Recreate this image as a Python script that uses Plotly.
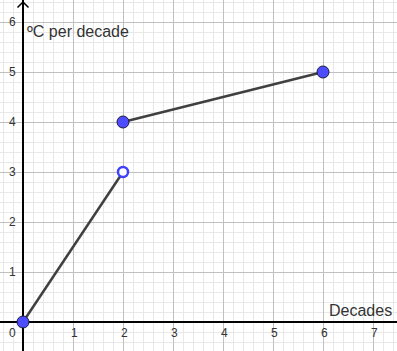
import plotly.graph_objects as go

# Data
seg1_x = [0, 2]
seg1_y = [0, 3]
seg2_x = [2, 6]
seg2_y = [4, 5]
filled_x = [0, 2, 6]
filled_y = [0, 4, 5]
open_x = [2]
open_y = [3]
x_ticks = [1, 2, 3, 4, 5, 6, 7]
y_ticks = [1, 2, 3, 4, 5, 6]
x_title = "Decades"
y_title = "ºC per decade"

fig = go.Figure()

line_style = dict(color="#404040", width=2.5)
fig.add_trace(go.Scatter(x=seg1_x, y=seg1_y, mode="lines", line=line_style, hoverinfo="skip"))
fig.add_trace(go.Scatter(x=seg2_x, y=seg2_y, mode="lines", line=line_style, hoverinfo="skip"))
fig.add_trace(go.Scatter(x=open_x, y=open_y, mode="markers",
                         marker=dict(size=10, color="white", line=dict(color="#4040ff", width=2.5))))
fig.add_trace(go.Scatter(x=filled_x, y=filled_y, mode="markers",
                         marker=dict(size=12, color="#4d4dff", line=dict(color="#1a1a40", width=1))))

# y-axis arrowhead
fig.add_trace(go.Scatter(x=[-0.11, 0, 0.11], y=[6.29, 6.4, 6.29], mode="lines",
                         line=dict(color="black", width=1.5), hoverinfo="skip"))

font = dict(family="Liberation Sans, Arial, sans-serif", size=12, color="#333333")
ann = []
for t in x_ticks:
    ann.append(dict(x=t + 0.02, y=-0.22, text=str(t), showarrow=False, font=font,
                    xanchor="center", yanchor="middle"))
for t in y_ticks:
    ann.append(dict(x=-0.22, y=t, text=str(t), showarrow=False, font=font,
                    xanchor="center", yanchor="middle"))
ann.append(dict(x=-0.22, y=-0.22, text="0", showarrow=False, font=font,
                xanchor="center", yanchor="middle"))
big = dict(family="Liberation Sans, Arial, sans-serif", size=16, color="#333333")
ann.append(dict(x=0.04, y=5.82, text=y_title, showarrow=False, font=big,
                xanchor="left", yanchor="middle"))
ann.append(dict(x=6.74, y=0.24, text=x_title, showarrow=False, font=big,
                xanchor="center", yanchor="middle"))

axis_common = dict(
    showticklabels=False, ticks="", tick0=0, dtick=1,
    showgrid=True, gridcolor="#c0c0c0", gridwidth=1,
    minor=dict(dtick=0.2, showgrid=True, gridcolor="#e8e8e8", gridwidth=1),
    zeroline=True, zerolinecolor="black", zerolinewidth=1.5,
    showline=False, fixedrange=True,
)
fig.update_layout(
    width=397, height=351,
    margin=dict(l=0, r=0, t=0, b=0),
    paper_bgcolor="white", plot_bgcolor="white",
    showlegend=False,
    xaxis=dict(range=[-0.46, 7.48], **axis_common),
    yaxis=dict(range=[-0.58, 6.44], **axis_common),
    annotations=ann,
)
fig.write_html("out.html")
